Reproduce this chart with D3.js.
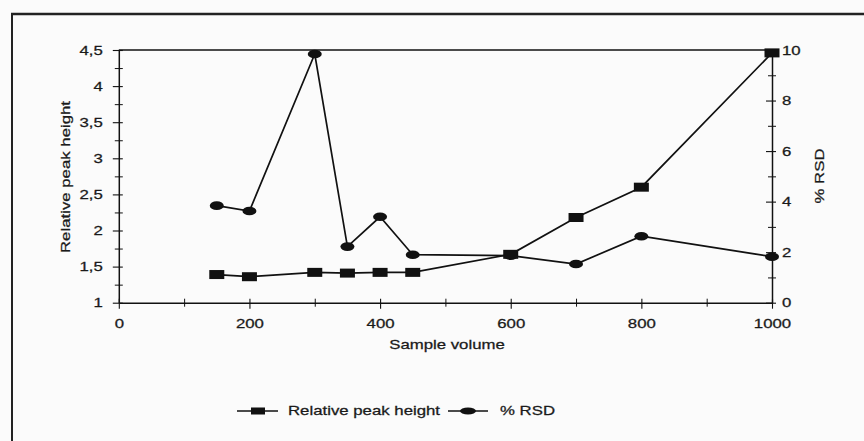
<!DOCTYPE html>
<html>
<head>
<meta charset="utf-8">
<script src="https://cdn.jsdelivr.net/npm/d3@7/dist/d3.min.js"></script>
<style>
  html, body { margin: 0; padding: 0; background: #fbfbfb; }
  svg { display: block; }
  text { font-family: "Liberation Sans", Arial, sans-serif; font-size: 12px; fill: #1a1a1a; stroke: #1a1a1a; stroke-width: 0.25px; }
</style>
</head>
<body>
<svg id="chart" width="864" height="441"></svg>
<script>
// Sample volumes and the two measured series
const volumes = [150, 200, 300, 350, 400, 450, 600, 700, 800, 1000];
const relPeakHeight = [1.39, 1.36, 1.42, 1.41, 1.42, 1.42, 1.67, 2.18, 2.60, 4.46];
const rsd = [3.84, 3.63, 9.84, 2.22, 3.40, 1.90, 1.86, 1.53, 2.63, 1.82];

// Axis ticks
const xMajor = [0, 200, 400, 600, 800, 1000];
const xMinor = [100, 300, 500, 700, 900];
const yLeftMajor = [1, 1.5, 2, 2.5, 3, 3.5, 4, 4.5];
const yLeftMinor = [1.25, 1.75, 2.25, 2.75, 3.25, 3.75, 4.25];
const yRightMajor = [0, 2, 4, 6, 8, 10];
const yRightMinor = [1, 3, 5, 7, 9];

const seriesNames = ["Relative peak height", "% RSD"];
const xTitle = "Sample volume";

const SX = 1.4; // horizontal stretch of the lettering

const svg = d3.select("#chart");

const plotL = 118.8, plotR = 772, plotT = 50, plotB = 302.7;

const x = d3.scaleLinear().domain([0, 1000]).range([plotL, plotR]);
const yL = d3.scaleLinear().domain([1, 4.5]).range([plotB, plotT]);
const yR = d3.scaleLinear().domain([0, 10]).range([plotB, plotT]);

const fmt = v => String(v).replace(".", ",");

// Outer frame (left and top edges)
svg.append("line").attr("x1", 12).attr("y1", 14).attr("x2", 12).attr("y2", 441)
  .attr("stroke", "#222").attr("stroke-width", 2);
svg.append("line").attr("x1", 11).attr("y1", 14).attr("x2", 864).attr("y2", 14)
  .attr("stroke", "#222").attr("stroke-width", 2.5);

// Top edge of the plot area
svg.append("line").attr("x1", plotL).attr("x2", plotR).attr("y1", plotT).attr("y2", plotT)
  .attr("stroke", "#111").attr("stroke-width", 1.6);

function styleAxis(g) {
  g.select(".domain").attr("stroke", "#111").attr("stroke-width", 1.5);
  g.selectAll(".tick line").attr("stroke", "#111").attr("stroke-width", 1.1);
}

// Left axis
const gL = svg.append("g").attr("transform", `translate(${plotL},0)`)
  .call(d3.axisLeft(yL).tickValues(yLeftMajor).tickFormat(fmt).tickSizeOuter(0));
styleAxis(gL);
gL.selectAll(".tick line").attr("x1", 4).attr("x2", -6);
gL.selectAll(".tick text").attr("x", null).attr("dy", "0.35em")
  .attr("transform", `translate(-16,0) scale(${SX},1)`).attr("text-anchor", "end");
const gLm = svg.append("g").attr("transform", `translate(${plotL},0)`)
  .call(d3.axisLeft(yL).tickValues(yLeftMinor).tickFormat("").tickSizeOuter(0));
gLm.select(".domain").remove();
gLm.selectAll(".tick line").attr("x1", 4).attr("x2", -4).attr("stroke", "#111");

// Right axis
const gR = svg.append("g").attr("transform", `translate(${plotR},0)`)
  .call(d3.axisRight(yR).tickValues(yRightMajor).tickFormat(fmt).tickSizeOuter(0));
styleAxis(gR);
gR.selectAll(".tick line").attr("x1", -6).attr("x2", 4);
gR.selectAll(".tick text").attr("x", null).attr("dy", "0.35em")
  .attr("transform", `translate(10,0) scale(${SX},1)`).attr("text-anchor", "start");
const gRm = svg.append("g").attr("transform", `translate(${plotR},0)`)
  .call(d3.axisRight(yR).tickValues(yRightMinor).tickFormat("").tickSizeOuter(0));
gRm.select(".domain").remove();
gRm.selectAll(".tick line").attr("x1", -4).attr("x2", 4).attr("stroke", "#111");

// Bottom axis
const gB = svg.append("g").attr("transform", `translate(0,${plotB})`)
  .call(d3.axisBottom(x).tickValues(xMajor).tickFormat(fmt).tickSizeOuter(0));
styleAxis(gB);
gB.selectAll(".tick line").attr("y1", -4).attr("y2", 6);
gB.selectAll(".tick text").attr("y", null).attr("dy", "0.35em")
  .attr("transform", `translate(0,21) scale(${SX},1)`).attr("text-anchor", "middle");
const gBm = svg.append("g").attr("transform", `translate(0,${plotB})`)
  .call(d3.axisBottom(x).tickValues(xMinor).tickFormat("").tickSizeOuter(0));
gBm.select(".domain").remove();
gBm.selectAll(".tick line").attr("y1", -4).attr("y2", 4).attr("stroke", "#111");

// Axis titles
function label(tx, ty, txt, rot) {
  svg.append("text")
    .attr("transform", `translate(${tx},${ty}) rotate(${rot}) scale(${SX},1)`)
    .attr("text-anchor", "middle").attr("dy", "0.35em").text(txt);
}
label(447, 345, xTitle, 0);
label(66, 177, seriesNames[0], -90);
label(820, 176, seriesNames[1], -90);

// Series lines
const lineL = d3.line().x((d, i) => x(volumes[i])).y(d => yL(d));
const lineR = d3.line().x((d, i) => x(volumes[i])).y(d => yR(d));

svg.append("path").datum(rsd).attr("d", lineR)
  .attr("fill", "none").attr("stroke", "#111").attr("stroke-width", 1.7);
svg.append("path").datum(relPeakHeight).attr("d", lineL)
  .attr("fill", "none").attr("stroke", "#111").attr("stroke-width", 1.7);

// Markers
svg.append("g").selectAll("ellipse").data(rsd).join("ellipse")
  .attr("cx", (d, i) => x(volumes[i])).attr("cy", d => yR(d))
  .attr("rx", 7).attr("ry", 4.3).attr("fill", "#111");
svg.append("g").selectAll("rect").data(relPeakHeight).join("rect")
  .attr("x", (d, i) => x(volumes[i]) - 7.5).attr("y", d => yL(d) - 4.5)
  .attr("width", 15).attr("height", 9).attr("fill", "#111");

// Legend
const ly = 411;
svg.append("line").attr("x1", 237).attr("x2", 278).attr("y1", ly).attr("y2", ly)
  .attr("stroke", "#111").attr("stroke-width", 1.7);
svg.append("rect").attr("x", 251).attr("y", ly - 3.5).attr("width", 14).attr("height", 7).attr("fill", "#111");
svg.append("text").attr("transform", `translate(288,${ly}) scale(${SX},1)`)
  .attr("dy", "0.35em").text(seriesNames[0]);
svg.append("line").attr("x1", 448).attr("x2", 488).attr("y1", ly).attr("y2", ly)
  .attr("stroke", "#111").attr("stroke-width", 1.7);
svg.append("ellipse").attr("cx", 468).attr("cy", ly).attr("rx", 8).attr("ry", 3.5).attr("fill", "#111");
svg.append("text").attr("transform", `translate(500,${ly}) scale(${SX},1)`)
  .attr("dy", "0.35em").text(seriesNames[1]);
</script>
</body>
</html>
